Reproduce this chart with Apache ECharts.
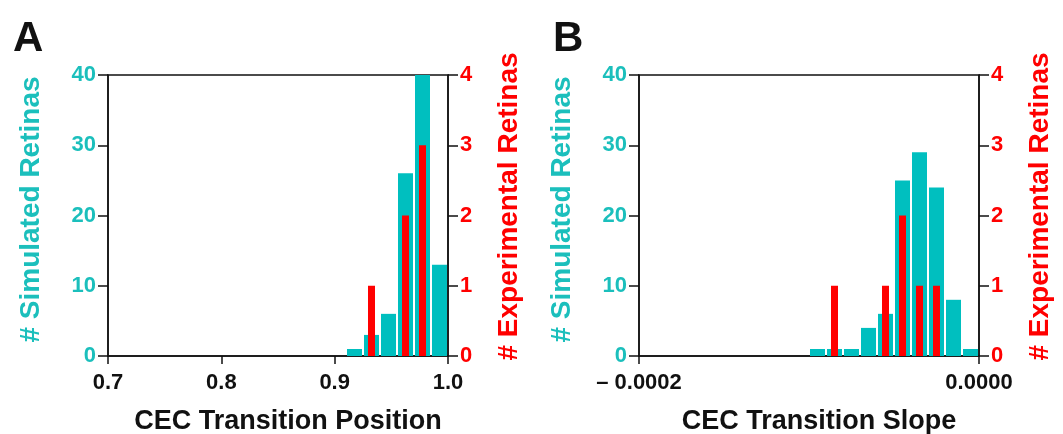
<!DOCTYPE html>
<html>
<head>
<meta charset="utf-8">
<script src="https://cdn.jsdelivr.net/npm/echarts@6/dist/echarts.min.js"></script>
<style>
  html, body { margin: 0; padding: 0; background: #fff; }
  #chart { width: 1063px; height: 434px; }
</style>
</head>
<body>
<div id="chart"></div>
<script>
// panel A: CEC transition position, bins of 0.015
const posBins = [0.9175, 0.9325, 0.9475, 0.9625, 0.9775, 0.9925];
const posSimulated = [1, 3, 6, 26, 40, 13];
const posExperimental = [0, 1, 0, 2, 3, 0];

// panel B: CEC transition slope, bins of 0.00001
const slopeBins = [-0.000095, -0.000085, -0.000075, -0.000065, -0.000055,
  -0.000045, -0.000035, -0.000025, -0.000015, -0.000005];
const slopeSimulated = [1, 1, 1, 4, 6, 25, 29, 24, 8, 1];
const slopeExperimental = [0, 1, 0, 0, 1, 2, 1, 1, 0, 0];

const CYAN = "#00BFBF";
const CYAN_TEXT = "#1BBFBC";
const RED = "#FF0000";
const FONT = "Liberation Sans, Arial, sans-serif";

const chart = echarts.init(document.getElementById("chart"));

const pairs = (xs, ys) => xs.map((x, i) => [x, ys[i]]).filter(d => d[1] > 0);

const lineStyle = { color: "#111", width: 1.5 };

const xAxisFor = (gridIndex, min, max, interval, name, formatter, hidden) => ({
  type: "value",
  gridIndex,
  min,
  max,
  interval,
  show: !hidden,
  name,
  nameLocation: "middle",
  nameGap: 52,
  nameTextStyle: { fontFamily: FONT, fontWeight: "bold", fontSize: 27, color: "#111", padding: [0, 0, 0, 20] },
  axisLine: { onZero: false, lineStyle },
  axisTick: { inside: false, length: 8, lineStyle },
  splitLine: { show: false },
  axisLabel: { fontFamily: FONT, fontWeight: "bold", fontSize: 22, color: "#111", margin: 16, formatter }
});

const yAxisFor = (gridIndex, right) => ({
  type: "value",
  gridIndex,
  position: right ? "right" : "left",
  min: 0,
  max: right ? 4 : 40,
  interval: right ? 1 : 10,
  name: right ? "# Experimental Retinas" : "# Simulated Retinas",
  nameLocation: "middle",
  nameRotate: 90,
  nameGap: right ? 47 : 63,
  nameTextStyle: {
    fontFamily: FONT, fontWeight: "bold", fontSize: 28,
    color: right ? RED : CYAN_TEXT,
    padding: right ? [0, 0, 0, 18] : [0, 0, 0, 12]
  },
  axisLine: { show: true, onZero: false, lineStyle },
  axisTick: { show: true, inside: false, length: 10, lineStyle },
  splitLine: { show: false },
  axisLabel: {
    fontFamily: FONT, fontWeight: "bold", fontSize: 22, margin: 12,
    color: right ? RED : CYAN_TEXT
  }
});

const slopeLabel = v => (v === 0 ? "0.0000" : "\u2013 " + Math.abs(v).toFixed(4));

chart.setOption({
  animation: false,
  title: [
    { text: "A", left: 8, top: 13, textStyle: { fontFamily: FONT, fontWeight: "bold", fontSize: 42, color: "#111" } },
    { text: "B", left: 548, top: 13, textStyle: { fontFamily: FONT, fontWeight: "bold", fontSize: 42, color: "#111" } }
  ],
  grid: [
    { left: 108, right: 615, top: 75, bottom: 78, outerBoundsMode: "none", show: true, borderColor: "#111", borderWidth: 1.5 },
    { left: 639, right: 84, top: 75, bottom: 78, outerBoundsMode: "none", show: true, borderColor: "#111", borderWidth: 1.5 }
  ],
  xAxis: [
    xAxisFor(0, 0.7, 1.0, 0.1, "CEC Transition Position", v => v.toFixed(1)),
    xAxisFor(0, 0.7, 1.0, 0.1, "", null, true),
    xAxisFor(1, -0.0002, 0, 0.0002, "CEC Transition Slope", slopeLabel),
    xAxisFor(1, -0.0002, 0, 0.0002, "", null, true)
  ],
  yAxis: [yAxisFor(0, false), yAxisFor(0, true), yAxisFor(1, false), yAxisFor(1, true)],
  series: [
    { type: "bar", xAxisIndex: 0, yAxisIndex: 0, barWidth: 15, itemStyle: { color: CYAN }, data: pairs(posBins, posSimulated) },
    { type: "bar", xAxisIndex: 1, yAxisIndex: 1, barWidth: 7, z: 3, itemStyle: { color: RED }, data: pairs(posBins, posExperimental) },
    { type: "bar", xAxisIndex: 2, yAxisIndex: 2, barWidth: 15, itemStyle: { color: CYAN }, data: pairs(slopeBins, slopeSimulated) },
    { type: "bar", xAxisIndex: 3, yAxisIndex: 3, barWidth: 7, z: 3, itemStyle: { color: RED }, data: pairs(slopeBins, slopeExperimental) }
  ]
});
</script>
</body>
</html>
